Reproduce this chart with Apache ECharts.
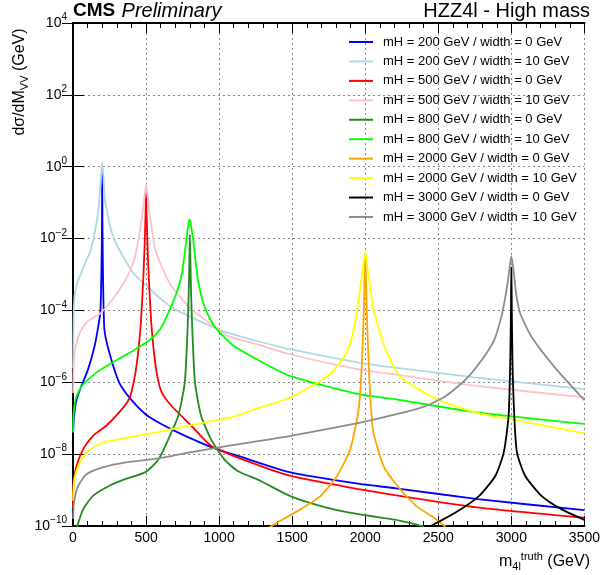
<!DOCTYPE html>
<html>
<head>
<meta charset="utf-8">
<script src="https://cdn.jsdelivr.net/npm/echarts@6/dist/echarts.min.js"></script>
<style>
html, body { margin: 0; padding: 0; background: #fff; }
#main { width: 603px; height: 575px; }
</style>
</head>
<body>
<div id="main"></div>
<script>
// curves: [m4l truth (GeV), dsigma/dM]
var mH200w0 = [[1,4.0e-8],[7,1.15e-7],[25,3.39e-7],[58,7.94e-7],[103,2.29e-6],[148,1.02e-5],[177,4.57e-5],[188,1.07e-4],[195,1.58e-3],[198.5,3.16e-2],[200,0.631],[201.5,3.16e-2],[205,1.26e-3],[215,2.95e-5],[249,6.61e-6],[316,9.77e-7],[395,3.39e-7],[496,1.29e-7],[585,7.59e-8],[720,3.98e-8],[950,1.55e-8],[1130,8.91e-9],[1490,3.09e-9],[1960,1.48e-9],[2210,1.12e-9],[2770,5.62e-10],[3500,2.75e-10]];
var mH200w10 = [[1,2.51e-6],[4,5.01e-5],[10,2.51e-4],[25,5.01e-4],[47,8.91e-4],[92,2.51e-3],[115,3.98e-3],[149,1.45e-2],[170,5.01e-2],[182,0.158],[192,0.562],[200,1.32],[208,0.562],[217,0.126],[232,6.31e-2],[250,2.51e-2],[290,7.94e-3],[360,2.40e-3],[420,1.0e-3],[500,5.01e-4],[600,2.09e-4],[700,1.07e-4],[944,3.63e-5],[1057,2.40e-5],[1258,1.41e-5],[1483,8.32e-6],[1954,3.55e-6],[2200,2.57e-6],[2762,1.35e-6],[3500,6.46e-7]];
var mH500w0 = [[1,3.16e-10],[3,1.66e-9],[25,4.79e-9],[70,1.38e-8],[137,3.24e-8],[227,6.17e-8],[316,1.45e-7],[384,3.39e-7],[420,1.26e-6],[445,6.31e-6],[465,5.01e-5],[480,6.31e-4],[490,6.31e-3],[496,3.98e-2],[500,0.191],[504,3.98e-2],[510,6.31e-3],[520,6.31e-4],[535,5.01e-5],[555,6.31e-6],[580,1.26e-6],[610,5.01e-7],[675,2.19e-7],[810,6.17e-8],[944,1.70e-8],[1124,8.13e-9],[1483,2.51e-9],[1954,1.07e-9],[2200,7.24e-10],[2762,3.31e-10],[3500,1.70e-10]];
var mH500w10 = [[1,5.01e-7],[4,2.51e-6],[14,8.32e-6],[47,2.40e-5],[100,5.01e-5],[182,7.94e-5],[271,2.04e-4],[361,7.24e-4],[410,2.0e-3],[440,6.31e-3],[473,4.17e-2],[490,0.158],[500,0.316],[510,0.158],[527,4.17e-2],[563,4.90e-3],[620,1.26e-3],[675,4.68e-4],[810,1.07e-4],[967,3.63e-5],[1057,1.95e-5],[1258,1.15e-5],[1483,6.03e-6],[1954,2.29e-6],[2200,1.66e-6],[2762,7.94e-7],[3500,3.80e-7]];
var mH800w0 = [[25,8.91e-11],[70,2.95e-10],[137,6.92e-10],[249,1.32e-9],[361,2.04e-9],[496,3.16e-9],[585,7.08e-9],[653,2.63e-8],[720,1.15e-7],[765,9.77e-7],[783,2.40e-5],[792,3.16e-4],[797,3.16e-3],[800,1.29e-2],[803,3.16e-3],[808,3.16e-4],[817,2.51e-5],[835,9.77e-7],[877,1.15e-7],[944,2.63e-8],[1034,7.24e-9],[1124,3.47e-9],[1281,1.82e-9],[1483,6.92e-10],[1729,3.31e-10],[1954,2.14e-10],[2200,1.51e-10],[2313,1.20e-10],[2400,9.55e-11]];
var mH800w10 = [[1,3.98e-8],[5,1.58e-7],[25,4.17e-7],[70,8.71e-7],[159,1.86e-6],[271,3.55e-6],[428,8.32e-6],[530,1.55e-5],[600,3.16e-5],[653,8.71e-5],[710,3.16e-4],[746,1.12e-3],[776,9.33e-3],[790,2.51e-2],[800,3.39e-2],[810,2.0e-2],[822,9.33e-3],[855,7.24e-4],[900,1.26e-4],[967,3.63e-5],[1101,1.02e-5],[1258,4.37e-6],[1483,1.51e-6],[1954,4.68e-7],[2200,3.39e-7],[2762,1.45e-7],[3500,6.92e-8]];
var mH2000w0 = [[1340,8.91e-11],[1379,1.12e-10],[1559,2.95e-10],[1695,6.92e-10],[1808,2.51e-9],[1898,1.38e-8],[1955,1.78e-7],[1976,2.82e-6],[1990,1.0e-4],[1996,1.0e-3],[2000,3.55e-3],[2004,1.0e-3],[2010,1.0e-4],[2024,2.82e-6],[2040,1.78e-7],[2056,3.98e-8],[2124,4.79e-9],[2214,1.41e-9],[2349,3.63e-10],[2485,1.55e-10],[2550,9.55e-11]];
var mH2000w10 = [[1,5.01e-10],[7,1.66e-9],[36,4.79e-9],[92,1.12e-8],[204,2.09e-8],[361,2.82e-8],[585,4.17e-8],[700,5.25e-8],[900,7.59e-8],[1100,1.10e-7],[1281,2.0e-7],[1483,3.72e-7],[1672,9.77e-7],[1746,1.51e-6],[1808,2.82e-6],[1859,5.37e-6],[1898,1.26e-5],[1926,3.63e-5],[1955,2.04e-4],[1978,1.0e-3],[1990,2.24e-3],[2000,4.17e-3],[2010,2.24e-3],[2022,1.0e-3],[2052,1.32e-4],[2130,1.02e-5],[2240,1.41e-6],[2490,3.39e-7],[2770,1.38e-7],[3000,9.33e-8],[3500,3.80e-8]];
var mH3000w0 = [[2440,9.55e-11],[2620,2.40e-10],[2780,6.92e-10],[2891,2.51e-9],[2948,1.12e-8],[2981,1.15e-7],[2992,3.16e-6],[2997,1.0e-4],[3000,1.58e-3],[3003,1.0e-4],[3008,3.16e-6],[3020,1.15e-7],[3038,1.12e-8],[3094,2.51e-9],[3206,6.92e-10],[3342,2.95e-10],[3500,1.48e-10]];
var mH3000w10 = [[1,1.58e-10],[7,4.57e-10],[36,1.32e-9],[92,2.75e-9],[204,4.27e-9],[361,5.89e-9],[585,7.59e-9],[800,1.12e-8],[1060,1.70e-8],[1490,3.24e-8],[1966,7.59e-8],[2214,1.29e-7],[2416,2.19e-7],[2552,4.17e-7],[2688,1.20e-6],[2801,4.37e-6],[2880,1.41e-5],[2930,6.31e-5],[2960,2.51e-4],[2982,1.0e-3],[3000,3.24e-3],[3018,1.0e-3],[3035,2.51e-4],[3062,7.94e-5],[3140,1.78e-5],[3300,2.51e-6],[3500,3.16e-7]];

var seriesNames = [
    'mH = 200 GeV / width = 0 GeV', 'mH = 200 GeV / width = 10 GeV',
    'mH = 500 GeV / width = 0 GeV', 'mH = 500 GeV / width = 10 GeV',
    'mH = 800 GeV / width = 0 GeV', 'mH = 800 GeV / width = 10 GeV',
    'mH = 2000 GeV / width = 0 GeV', 'mH = 2000 GeV / width = 10 GeV',
    'mH = 3000 GeV / width = 0 GeV', 'mH = 3000 GeV / width = 10 GeV'
];
var seriesData = [mH200w0, mH200w10, mH500w0, mH500w10, mH800w0, mH800w10, mH2000w0, mH2000w10, mH3000w0, mH3000w10];
var seriesColors = ['#0000ff', '#add8e6', '#ff0000', '#ffc0cb', '#228b22', '#00ff00', '#ffa500', '#ffff00', '#000000', '#8c8c8c'];

var FONT = '"Liberation Sans", Arial, sans-serif';

var myChart = echarts.init(document.getElementById('main'));

var series = seriesNames.map(function (name, i) {
    return {
        name: name,
        type: 'line',
        data: seriesData[i],
        symbol: 'none',
        smooth: 0.2,
        clip: true,
        lineStyle: { color: seriesColors[i], width: 1.8 },
        itemStyle: { color: seriesColors[i] },
        z: 2 + i
    };
});

var powLabel = function (v) {
    var e = Math.round(Math.log10(v));
    return '{b|10}{s|' + String(e).replace('-', '\u2212') + '}';
};

var xBase = {
    type: 'value', min: 0, max: 3500, interval: 500,
    axisLine: { show: true, lineStyle: { color: '#000', width: 2 } },
    axisTick: { show: true, inside: true, length: 10, lineStyle: { color: '#000' } },
    minorTick: { show: true, splitNumber: 5, length: 5, lineStyle: { color: '#000' } }
};
var yBase = {
    type: 'log', logBase: 10, min: 1e-10, max: 1e4, interval: 2, splitNumber: 7,
    axisLine: { show: true, lineStyle: { color: '#000', width: 2 } },
    axisTick: { show: true, inside: true, length: 11, lineStyle: { color: '#000' } }
};

var option = {
    animation: false,
    backgroundColor: '#fff',
    grid: { left: 73, right: 13, top: 23, bottom: 49 },
    xAxis: [
        Object.assign({}, xBase, {
            position: 'bottom',
            axisLabel: {
                color: '#000', fontSize: 14, fontFamily: FONT, margin: 5,
                formatter: function (v) { return String(v); }
            },
            splitLine: { show: true, lineStyle: { color: '#888', type: [2, 3], width: 1 } }
        }),
        Object.assign({}, xBase, {
            position: 'top',
            axisLabel: { show: false },
            splitLine: { show: false }
        })
    ],
    yAxis: [
        Object.assign({}, yBase, {
            position: 'left',
            axisLabel: {
                formatter: powLabel, margin: 6, color: '#000', fontFamily: FONT,
                rich: {
                    b: { fontSize: 14, fontFamily: FONT, color: '#000', lineHeight: 21, verticalAlign: 'middle' },
                    s: { fontSize: 10, fontFamily: FONT, color: '#000', lineHeight: 11, verticalAlign: 'top' }
                }
            },
            splitLine: { show: true, lineStyle: { color: '#888', type: [2, 3], width: 1 } }
        }),
        Object.assign({}, yBase, {
            position: 'right',
            axisLabel: { show: false },
            splitLine: { show: false }
        })
    ],
    legend: {
        orient: 'vertical',
        left: 349,
        top: 34,
        padding: 0,
        icon: 'rect',
        itemWidth: 24,
        itemHeight: 2,
        itemGap: 3.44,
        data: seriesNames,
        textStyle: { fontSize: 13, fontFamily: FONT, color: '#000', lineHeight: 16, padding: [0, 0, 0, 5] }
    },
    graphic: [
        {
            type: 'text', left: 73, top: 1,
            style: {
                text: '{b|CMS} {i|Preliminary}',
                rich: {
                    b: { fontSize: 19, fontWeight: 'bold', fontFamily: FONT, fill: '#000' },
                    i: { fontSize: 20, fontStyle: 'italic', fontFamily: FONT, fill: '#000', padding: [0, 0, 0, 3] }
                }
            }
        },
        {
            type: 'text', right: 13, top: 1,
            style: { text: 'HZZ4l - High mass', fontSize: 20, fontFamily: FONT, fill: '#000' }
        },
        {
            type: 'text', x: 20, y: 82, rotation: Math.PI / 2,
            style: {
                text: '{n|d\u03c3/dM}{sub|VV}{n| (GeV)}',
                align: 'center', verticalAlign: 'middle',
                rich: {
                    n: { fontSize: 16, fontFamily: FONT, fill: '#000', lineHeight: 21, verticalAlign: 'middle' },
                    sub: { fontSize: 11, fontFamily: FONT, fill: '#000', lineHeight: 12, verticalAlign: 'bottom' }
                }
            }
        },
        {
            type: 'text', x: 590, y: 562,
            style: {
                text: '{n|m}{sub|4l}{sup|truth}{n| (GeV)}',
                align: 'right', verticalAlign: 'middle',
                rich: {
                    n: { fontSize: 16, fontFamily: FONT, fill: '#000', lineHeight: 21, verticalAlign: 'middle' },
                    sub: { fontSize: 11, fontFamily: FONT, fill: '#000', lineHeight: 12, verticalAlign: 'bottom' },
                    sup: { fontSize: 11, fontFamily: FONT, fill: '#000', lineHeight: 12, verticalAlign: 'top' }
                }
            }
        }
    ],
    series: series
};

myChart.setOption(option);
</script>
</body>
</html>
